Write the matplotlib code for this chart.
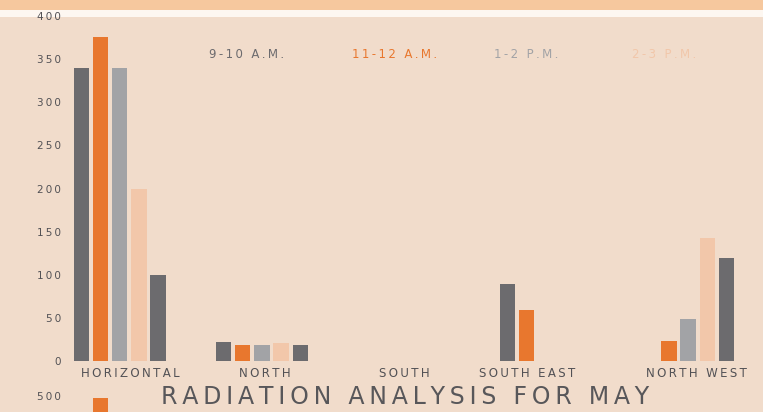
import numpy as np
import matplotlib
matplotlib.use('Agg')
import matplotlib.pyplot as plt
from matplotlib.patches import Rectangle

# データ
directions = ['HORIZONTAL', 'NORTH', 'SOUTH', 'SOUTH EAST', 'NORTH WEST']
series_names = ['9-10 A.M.', '11-12 A.M.', '1-2 P.M.', '2-3 P.M.', '3-4 P.M.']
am_9_10 = [340, 22, 0, 89, 0]
am_11_12 = [376, 19, 0, 59, 23]
pm_1_2 = [340, 19, 0, 0, 49]
pm_2_3 = [200, 21, 0, 0, 143]
pm_3_4 = [100, 19, 0, 0, 119]
yticks = [0, 50, 100, 150, 200, 250, 300, 350, 400]

# 次のグラフ (下で切れている部分)
next_chart_value = 497

colors = ['#6c6b6e', '#e8772e', '#a2a3a6', '#f2c7aa', '#6c6b6e']
bg = '#f1dccb'
text_gray = '#525155'


def spaced(s, n=1):
    # 文字間を広げる (細いスペース)
    return ('\u2009' * n).join(s)


fig = plt.figure(figsize=(7.63, 4.12), dpi=100, facecolor=bg)

# 上の帯
fig.patches.append(Rectangle((0, 1 - 10 / 412), 1, 10 / 412, transform=fig.transFigure,
                             facecolor='#f6c89e', edgecolor='none', zorder=-5))
fig.patches.append(Rectangle((0, 1 - 17 / 412), 1, 7 / 412, transform=fig.transFigure,
                             facecolor='#fdf7f1', edgecolor='none', zorder=-5))

ax = fig.add_axes([65 / 763, 1 - 361 / 412, 1 - 65 / 763, (361 - 16) / 412])
ax.set_facecolor('none')

x = np.arange(len(directions))
step = 0.134
width = 0.106
all_series = [am_9_10, am_11_12, pm_1_2, pm_2_3, pm_3_4]
for j, vals in enumerate(all_series):
    ax.bar(x + (j - 2) * step, vals, width=width, color=colors[j])

label_shift = [0.07, 0.02, 0.0, -0.13, 0.06]

ax.set_ylim(0, 400)
ax.set_xlim(-0.387, 4.528)
ax.set_yticks(yticks)
ax.set_yticklabels([spaced(str(t)) for t in yticks], fontsize=7.5, color=text_gray)
ax.set_xticks(x + np.array(label_shift))
ax.set_xticklabels([spaced(d) for d in directions], fontsize=8.5, color=text_gray)
ax.tick_params(axis='both', length=0)
ax.tick_params(axis='y', pad=3)
ax.tick_params(axis='x', pad=4)
for s in ax.spines.values():
    s.set_visible(False)

# 凡例 (テキストのみ)
legend_x = [209, 352, 494, 632]
for name, c, lx in zip(series_names[:4], colors[:4], legend_x):
    fig.text(lx / 763, 1 - 55 / 412, spaced(name), color=c, fontsize=8.5, va='center', ha='left')

# タイトル
fig.text(405 / 763, 1 - 397 / 412, spaced('RADIATION ANALYSIS FOR MAY'), fontsize=17,
         color='#58575a', ha='center', va='center')

# 下のグラフの上端
ax2 = fig.add_axes([65 / 763, 1 - 396 / 412 - 0.84, 1 - 65 / 763, 0.84])
ax2.set_facecolor('none')
ax2.bar([0 - step], [next_chart_value], width=width, color=colors[1])
ax2.set_ylim(0, 500)
ax2.set_xlim(-0.387, 4.528)
ax2.set_yticks([500])
ax2.set_yticklabels([spaced('500')], fontsize=7.5, color=text_gray)
ax2.set_xticks([])
ax2.tick_params(axis='y', length=0, pad=3)
for s in ax2.spines.values():
    s.set_visible(False)

plt.savefig('out.png', dpi=100, facecolor=bg)
